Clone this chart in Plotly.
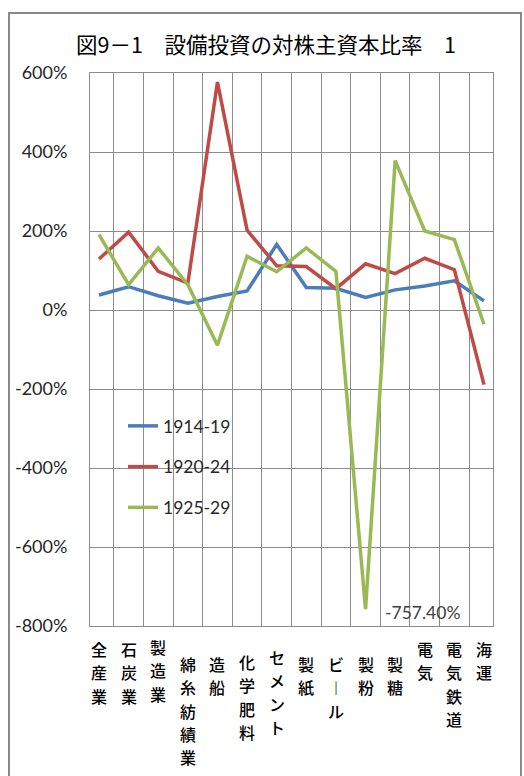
import plotly.graph_objects as go

# Industries (category axis)
industries = ["全産業", "石炭業", "製造業", "綿糸紡績業", "造船", "化学肥料", "セメント",
              "製紙", "ビール", "製粉", "製糖", "電気", "電気鉄道", "海運"]

# Capital investment / shareholders' equity, in percent
r_1914_19 = [38, 59, 36, 17, 34, 48, 166, 57, 55, 32, 51, 61, 74, 23]
r_1920_24 = [129, 197, 98, 68, 577, 202, 112, 110, 54, 117, 92, 131, 102, -189]
r_1925_29 = [191, 64, 157, 64, -89, 136, 97, 157, 98, -757.4, 378, 200, 178, -36]

series_names = ["1914-19", "1920-24", "1925-29"]
y_ticks = [600, 400, 200, 0, -200, -400, -600, -800]

title_text = "図9－1　設備投資の対株主資本比率　1"

colors = ["#4A7EBB", "#BE4B48", "#98B954"]
grid_col = "#8C8C8C"
latin_font = "Lato"
cjk_font = "Noto Sans CJK JP"

W, H = 524, 776
L, R, T, B = 90, 31, 73, 150

fig = go.Figure()
for i, (name, vals) in enumerate(zip(series_names, [r_1914_19, r_1920_24, r_1925_29])):
    fig.add_trace(go.Scatter(
        x=industries, y=vals, name=name, mode="lines",
        line=dict(color=colors[i], width=3.5),
        legendgroup=name,
    ))

# Vertical (stacked) category labels under the plot, one glyph per row
label_drop = {"全産業": 10, "石炭業": 10, "製造業": 8, "綿糸紡績業": 25, "造船": 25,
              "化学肥料": 23, "セメント": 18, "製紙": 25, "ビール": 25, "製粉": 25,
              "製糖": 25, "電気": 10, "電気鉄道": 10, "海運": 10}
vertical_forms = {"ー": "︱"}
label_size = 16
row_pitch = 23.3
annotations = []
for name in industries:
    for k, ch in enumerate(name):
        annotations.append(dict(
            x=name, xref="x", y=0, yref="paper", yanchor="top", xanchor="center",
            yshift=-(label_drop[name] + k * row_pitch),
            text=vertical_forms.get(ch, ch), showarrow=False, borderpad=0,
            font=dict(family=cjk_font, size=label_size, color="#000000",
                      weight=500),
        ))

# Value label at the minimum of the 1925-29 series
min_idx = r_1925_29.index(min(r_1925_29))
annotations.append(dict(
    x=industries[min_idx], xref="x", y=r_1925_29[min_idx], yref="y",
    xanchor="left", yanchor="middle", xshift=17, yshift=-3,
    text=f"{r_1925_29[min_idx]:.2f}%", showarrow=False,
    font=dict(family=latin_font, size=17.5, color="#404040"),
))

def px_to_paper_x(px):
    return (px - L) / (W - L - R)

def px_to_paper_y(py):
    return (H - B - py) / (H - T - B)

fig.update_layout(
    width=W, height=H,
    margin=dict(l=L, r=R, t=T, b=B),
    paper_bgcolor="white", plot_bgcolor="white",
    title=dict(
        text=title_text, x=px_to_paper_x(266), xref="paper", xanchor="center",
        y=1 - 45 / H, yref="container", yanchor="middle",
        font=dict(family=cjk_font, size=21.5, color="#000000"),
    ),
    xaxis=dict(
        type="category", tickson="boundaries", showgrid=True, gridcolor=grid_col,
        gridwidth=1, showticklabels=False, ticks="", showline=True, mirror=True,
        linecolor=grid_col, linewidth=1, zeroline=False,
    ),
    yaxis=dict(
        range=[-800, 600], tickvals=y_ticks, ticktext=[f"{v}%" for v in y_ticks],
        showgrid=True, gridcolor=grid_col, gridwidth=1, zeroline=False,
        showline=True, mirror=True, linecolor=grid_col, linewidth=1, ticks="",
        ticklabelstandoff=18,
        tickfont=dict(family=latin_font, size=18, color="#262626"),
    ),
    legend=dict(
        x=px_to_paper_x(123), y=px_to_paper_y(408), xanchor="left", yanchor="top",
        bgcolor="rgba(0,0,0,0)", tracegroupgap=15,
        font=dict(family=latin_font, size=17.5, color="#262626"),
    ),
    showlegend=True,
    annotations=annotations,
    shapes=[dict(
        type="rect", xref="paper", yref="paper",
        x0=px_to_paper_x(9), x1=px_to_paper_x(521),
        y0=px_to_paper_y(800), y1=px_to_paper_y(13),
        line=dict(color="#8A8A8A", width=2), fillcolor="rgba(0,0,0,0)",
    )],
)

fig.write_html("out.html")
